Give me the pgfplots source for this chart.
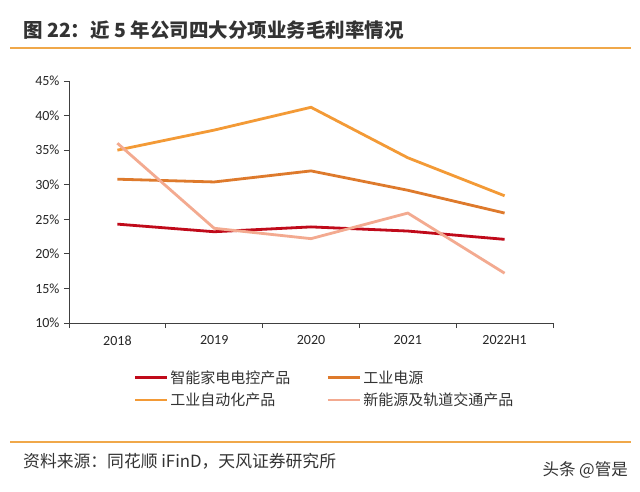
\documentclass[border=0pt]{standalone}
\usepackage{fontspec}
\setmainfont{Noto Sans CJK SC}
\newfontfamily\tickfont{Carlito}
\usepackage{pgfplots}
\pgfplotsset{compat=1.18}
\definecolor{cRed}{HTML}{C00A1A}
\definecolor{cPower}{HTML}{DE7A2C}
\definecolor{cAuto}{HTML}{F39A36}
\definecolor{cNew}{HTML}{F3AA90}
\definecolor{cRule}{HTML}{F0A84A}
\definecolor{cText}{HTML}{333333}
\definecolor{cTick}{HTML}{262626}
\definecolor{cAxis}{HTML}{404040}
\begin{document}
\begin{tikzpicture}
\fill[white] (0pt,0pt) rectangle (640pt,-491pt);
\useasboundingbox (0pt,0pt) rectangle (640pt,-491pt);
\node[anchor=west, inner sep=0pt, text=cText, font=\fontsize{19.5}{22}\selectfont\bfseries] at (23pt,-30pt) {图 22：近 5 年公司四大分项业务毛利率情况};
\draw[cRule, line width=1.3pt] (10pt,-48pt) -- (631pt,-48pt);
\draw[cRule, line width=1.3pt] (10pt,-442pt) -- (631pt,-442pt);
\node[anchor=west, inner sep=0pt, text=cText, font=\fontsize{16.8}{19}\selectfont] at (23pt,-461pt) {资料来源：同花顺 iFinD，天风证券研究所};
\node[anchor=east, inner sep=0pt, text=cText, font=\fontsize{16.5}{19}\selectfont] at (628pt,-470pt) {头条 @管是};
\begin{axis}[
  at={(69pt,-323pt)}, anchor=south west,
  scale only axis, width=484pt, height=242pt,
  xmin=-0.5, xmax=4.5, ymin=10, ymax=45,
  axis lines*=left,
  axis line style={cAxis, line width=0.9pt},
  xtick={0,1,2,3,4},
  xticklabels={2018,2019,2020,2021,2022H1},
  minor xtick={-0.5,0.5,1.5,2.5,3.5,4.5},
  ytick={10,15,20,25,30,35,40,45},
  yticklabels={10\%,15\%,20\%,25\%,30\%,35\%,40\%,45\%},
  tick align=outside,
  major tick length=5pt, minor tick length=5pt,
  major x tick style={draw=none},
  tick style={cAxis, line width=0.9pt},
  tick label style={font=\tickfont\fontsize{14}{15}\selectfont, text=cTick},
  xticklabel style={yshift=-4pt},
  yticklabel style={xshift=-1pt},
  legend columns=2,
  legend cell align=left,
  legend style={at={(0.127,-0.18)}, anchor=north west, draw=none, fill=none,
    font=\fontsize{15}{17}\selectfont, text=cText,
    /tikz/every even column/.append style={column sep=34pt},
    row sep=4pt},
  legend image code/.code={\draw[#1] (0pt,0pt) -- (32pt,0pt);},
  every axis plot/.append style={line width=2.8pt},
]
\addplot[cRed] coordinates {(0,24.3) (1,23.2) (2,23.9) (3,23.3) (4,22.1)};
\addlegendentry{智能家电电控产品}
\addplot[cPower] coordinates {(0,30.8) (1,30.4) (2,32.0) (3,29.2) (4,25.9)};
\addlegendentry{工业电源}
\addplot[cAuto] coordinates {(0,35.0) (1,37.9) (2,41.2) (3,33.9) (4,28.4)};
\addlegendentry{工业自动化产品}
\addplot[cNew] coordinates {(0,36.0) (1,23.7) (2,22.2) (3,25.9) (4,17.2)};
\addlegendentry{新能源及轨道交通产品}
\end{axis}
\end{tikzpicture}
\end{document}
